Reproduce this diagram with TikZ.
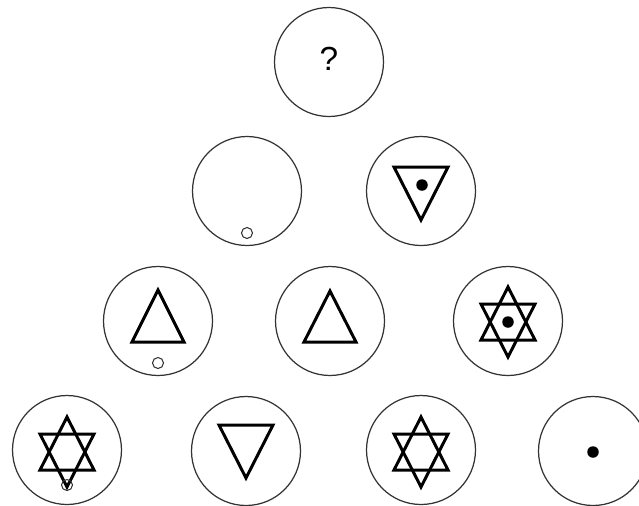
\documentclass[tikz,border=0pt]{standalone}
\usepackage{fontspec}
\setmainfont{Liberation Sans}
\usepackage{tikz}
\usetikzlibrary{positioning, calc}

\begin{document}
\begin{tikzpicture}[
    x=0.02cm, y=-0.02cm,
    cell/.style={draw=black!80, circle, minimum size=2.18cm, inner sep=0pt, line width=0.7pt},
    sym/.style={draw=black, line width=1.7pt, line join=miter},
    ring/.style={draw=black!80, circle, minimum size=0.22cm, inner sep=0pt, line width=0.6pt},
    blob/.style={fill=black, circle, minimum size=0.23cm, inner sep=0pt},
    hexstar/.pic={
        \draw[sym] (0,-35) -- (27,18) -- (-27,18) -- cycle;
        \draw[sym] (0,35) -- (27,-18) -- (-27,-18) -- cycle;
    },
]
    \useasboundingbox (0,0) rectangle (639,505);

    % Row 1
    \node[cell] (c1) at (329,62) {};
    \node[font=\fontsize{19}{22}\selectfont] (qm) at (329,59) {?};

    % Row 2
    \node[cell] (c21) at (247,191) {};
    \node[ring] (r21) at (247,233) {};
    \node[cell] (c22) at (421,191) {};
    \draw[sym, shift={(c22.center)}] (-27,-24) -- (27,-24) -- (0,29) -- cycle;
    \node[blob] (d22) at (422,185) {};

    % Row 3
    \node[cell] (c31) at (158,321) {};
    \draw[sym, shift={(c31.center)}] (0,-31) -- (26,21) -- (-26,21) -- cycle;
    \node[ring] (r31) at (158,363) {};
    \node[cell] (c32) at (330,321) {};
    \draw[sym, shift={(c32.center)}] (0,-30) -- (26,21) -- (-26,21) -- cycle;
    \node[cell] (c33) at (508,321) {};
    \pic at (508,322) {hexstar};
    \node[blob] (d33) at (508,322) {};

    % Row 4
    \node[cell] (c41) at (67,450) {};
    \pic at (67,452) {hexstar};
    \node[ring] (r41) at (67,485) {};
    \node[cell] (c42) at (246,451) {};
    \draw[sym, shift={(c42.center)}] (-27,-26) -- (27,-26) -- (0,27) -- cycle;
    \node[cell] (c43) at (421,450) {};
    \pic at (421,452) {hexstar};
    \node[cell] (c44) at (593,451) {};
    \node[blob] (d44) at (593,452) {};
\end{tikzpicture}
\end{document}
